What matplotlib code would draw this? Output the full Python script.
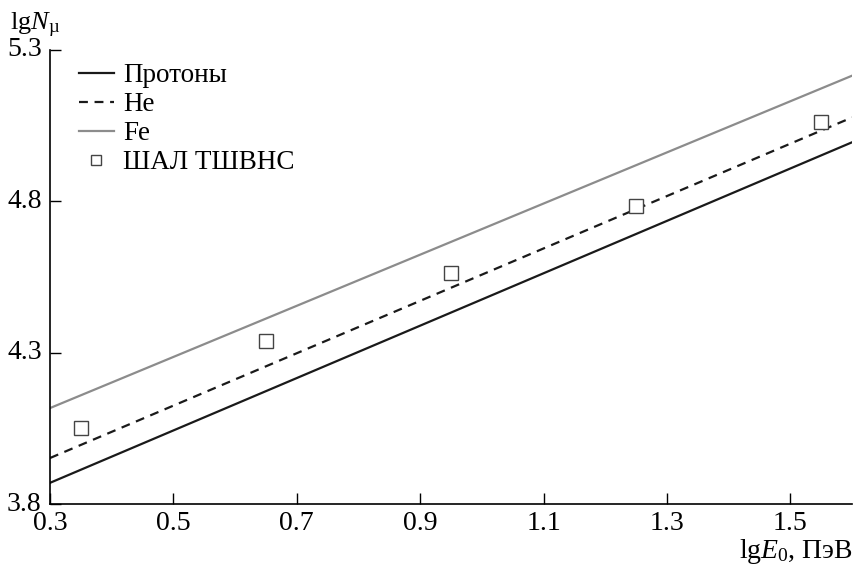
import matplotlib
matplotlib.use("Agg")
import matplotlib.pyplot as plt
from matplotlib.transforms import ScaledTranslation

plt.rcParams['font.family'] = ['Liberation Serif', 'DejaVu Serif']
plt.rcParams['mathtext.fontset'] = 'custom'
plt.rcParams['mathtext.rm'] = 'Liberation Serif'
plt.rcParams['mathtext.it'] = 'Liberation Serif:italic'

# model lines (lgE0 -> lgN_mu)
x_line = [0.3, 1.6]
protons = [3.87, 4.995]
helium = [3.952, 5.077]
iron = [4.117, 5.215]

# EAS TShVNS data points
x_pts = [0.35, 0.65, 0.95, 1.25, 1.55]
y_pts = [4.051, 4.338, 4.563, 4.784, 5.062]

x_ticks = [0.3, 0.5, 0.7, 0.9, 1.1, 1.3, 1.5]
y_ticks = [3.8, 4.3, 4.8, 5.3]

fig = plt.figure(figsize=(8.55, 5.66), dpi=100)
ax = fig.add_axes([0.0585, 0.1095, 0.938, 0.8022])

ax.plot(x_line, protons, color="#1a1a1a", lw=1.6, label="Протоны")
ax.plot(x_line, helium, color="#1a1a1a", lw=1.6, ls=(0, (4, 3)), label="He")
ax.plot(x_line, iron, color="#8c8c8c", lw=1.6, label="Fe")
ax.plot(x_pts, y_pts, ls="none", marker="s", ms=10, mfc="white",
        mec="#444444", mew=1.0, label="ШАЛ ТШВНС")

ax.set_xlim(0.3, 1.6)
ax.set_ylim(3.8, 5.3)
ax.set_xticks(x_ticks)
ax.set_yticks(y_ticks)
ax.set_xticklabels([f"{v:.1f}" for v in x_ticks])
ax.set_yticklabels([f"{v:.1f}" for v in y_ticks])
ax.tick_params(axis="x", direction="in", length=8, width=1, labelsize=20, pad=5)
ax.tick_params(axis="y", direction="in", length=8, width=1, labelsize=20, pad=6)
# y labels sit a little above their ticks
shift = ScaledTranslation(0, 3 / 100, fig.dpi_scale_trans)
for lab in ax.get_yticklabels():
    lab.set_transform(lab.get_transform() + shift)
for s in ["top", "right"]:
    ax.spines[s].set_visible(False)
for s in ["left", "bottom"]:
    ax.spines[s].set_linewidth(1.2)

fig.text(0.012, 0.93, r"lg$\mathit{N}_{\mathrm{µ}}$", fontsize=19, ha="left", va="bottom")
fig.text(0.997, 0.014, r"lg$\mathit{E}_{0}$, ПэВ", fontsize=20, ha="right", va="baseline")

ax.legend(loc="upper left", bbox_to_anchor=(0.0225, 0.995), frameon=False,
          fontsize=19.5, handlelength=1.3, handletextpad=0.33, labelspacing=0.15,
          markerscale=0.75, borderaxespad=0)

fig.savefig("out.png", dpi=100)
